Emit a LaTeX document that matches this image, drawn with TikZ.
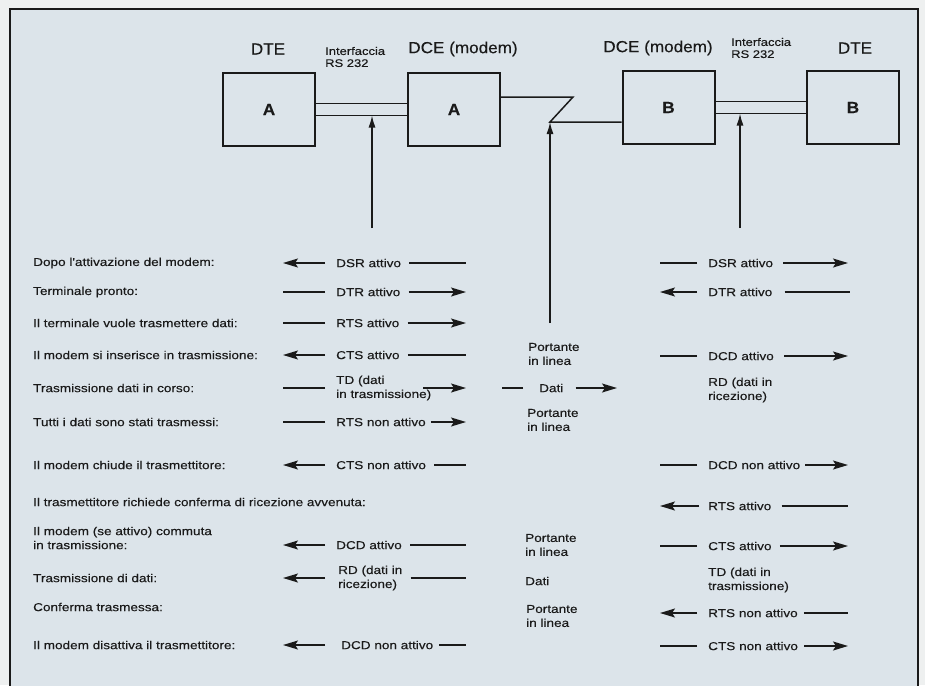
\documentclass[tikz,border=0pt]{standalone}
\usepackage{fontspec}
\setmainfont{Liberation Sans}
\newfontfamily\bodyfont{Liberation Sans}[FakeStretch=1.18, FakeBold=0.3]
\newfontfamily\headfont{Liberation Sans}[FakeStretch=1.07, FakeBold=0.2]
\usetikzlibrary{arrows.meta, positioning}
\definecolor{bgBlue}{HTML}{DCE4EA}
\definecolor{paperWhite}{HTML}{EEF0F0}
\definecolor{inkBlack}{HTML}{1A1A1A}
\tikzset{
  frame/.style    = {draw=inkBlack, line width=1.8pt, fill=bgBlue},
  unitbox/.style  = {draw=inkBlack, line width=2pt, minimum width=92pt,
                     minimum height=73pt, inner sep=0pt, text=inkBlack,
                     font=\headfont\fontsize{16}{16}\selectfont\bfseries},
  busline/.style  = {inkBlack, line width=1.5pt},
  probe/.style    = {-{Latex[length=12pt,width=7pt]}, inkBlack, line width=1.4pt},
  sigline/.style  = {inkBlack, line width=1.4pt},
  sigarrow/.style = {sigline, -{Stealth[length=15pt,width=9pt,inset=3pt]}},
  lbl/.style      = {font=\bodyfont\fontsize{11.5}{14}\selectfont, text=inkBlack,
                     inner sep=0pt, anchor=west, align=left},
  hlbl/.style     = {font=\headfont\fontsize{16}{16}\selectfont, text=inkBlack,
                     inner sep=0pt},
}
\begin{document}
\begin{tikzpicture}[x=1pt,y=-1pt]
  \useasboundingbox (0,0) rectangle (925,685);
  \clip (0,0) rectangle (925,685);
  \fill[paperWhite] (0,0) rectangle (925,685);
  \draw[frame] (10,9) rectangle (918,700);
  % units and the lines between them
  \node[unitbox] (dteA) at (269,109.5) {A};
  \node[unitbox] (dceA) at (454,109.5) {A};
  \node[unitbox] (dceB) at (668.5,107.5) {B};
  \node[unitbox] (dteB) at (853,107.5) {B};
  \node[hlbl] (hDteA) at (268,49) {DTE};
  \node[hlbl] (hDceA) at (463,49) {DCE (modem)};
  \node[hlbl] (hDceB) at (658,48) {DCE (modem)};
  \node[hlbl] (hDteB) at (855,48) {DTE};
  \node[lbl, font=\bodyfont\fontsize{11}{12}\selectfont] (hIfA) at (325,57) {Interfaccia\\RS 232};
  \node[lbl, font=\bodyfont\fontsize{11}{12}\selectfont] (hIfB) at (731,48) {Interfaccia\\RS 232};
  \coordinate (busAlo) at ([yshift=-6pt]dteA.east);
  \coordinate (busBlo) at ([yshift=-6pt]dceB.east);
  \draw[busline] ([yshift=6pt]dteA.east) -- ([yshift=6pt]dceA.west);
  \draw[busline] (busAlo) -- ([yshift=-6pt]dceA.west);
  \draw[busline] ([yshift=6pt]dceB.east) -- ([yshift=6pt]dteB.west);
  \draw[busline] (busBlo) -- ([yshift=-6pt]dteB.west);
  % telephone line with the step
  \coordinate (zTop) at (573,97);
  \coordinate (zBot) at (550,122);
  \draw[busline] (dceA.east |- zTop) -- (zTop) -- (zBot) -- (dceB.west |- zBot);
  % test points
  \coordinate (probeA) at (372,228);
  \coordinate (probeM) at (550,323);
  \coordinate (probeB) at (740,228);
  \draw[probe] (probeA) -- (probeA |- busAlo);
  \draw[probe] (probeM) -- (zBot);
  \draw[probe] (probeB) -- (probeB |- busBlo);
  % columns for the signal segments
  \coordinate (colA) at (283,0); \coordinate (endA) at (466,0);
  \coordinate (colB) at (660,0); \coordinate (endB) at (848,0);
  \coordinate (colM) at (502,0); \coordinate (endM) at (617,0);
  % phases
  \node[lbl] (d1) at (33,263) {Dopo l'attivazione del modem:};
  \node[lbl] (d2) at (33,292) {Terminale pronto:};
  \node[lbl] (d3) at (33,323) {Il terminale vuole trasmettere dati:};
  \node[lbl] (d4) at (33,355) {Il modem si inserisce in trasmissione:};
  \node[lbl] (d5) at (33,388) {Trasmissione dati in corso:};
  \node[lbl] (d6) at (33,422) {Tutti i dati sono stati trasmessi:};
  \node[lbl] (d7) at (33,465) {Il modem chiude il trasmettitore:};
  \node[lbl] (d8) at (33,502) {Il trasmettitore richiede conferma di ricezione avvenuta:};
  \node[lbl] (d9) at (33,538) {Il modem (se attivo) commuta\\in trasmissione:};
  \node[lbl] (d10) at (33,578) {Trasmissione di dati:};
  \node[lbl] (d11) at (33,607) {Conferma trasmessa:};
  \node[lbl] (d12) at (33,645) {Il modem disattiva il trasmettitore:};
  % signals on the A side
  \node[lbl] (a1) at (336,263) {DSR attivo};
  \draw[sigarrow] ([xshift=-11pt]a1.west) -- (colA |- a1.west);
  \draw[sigline] ([xshift=8pt]a1.east) -- (endA |- a1.east);
  \node[lbl] (a2) at (336,292) {DTR attivo};
  \draw[sigline] ([xshift=-11pt]a2.west) -- (colA |- a2.west);
  \draw[sigarrow] ([xshift=8pt]a2.east) -- (endA |- a2.east);
  \node[lbl] (a3) at (336,323) {RTS attivo};
  \draw[sigline] ([xshift=-11pt]a3.west) -- (colA |- a3.west);
  \draw[sigarrow] ([xshift=8pt]a3.east) -- (endA |- a3.east);
  \node[lbl] (a4) at (336,355) {CTS attivo};
  \draw[sigarrow] ([xshift=-11pt]a4.west) -- (colA |- a4.west);
  \draw[sigline] ([xshift=8pt]a4.east) -- (endA |- a4.east);
  \node[lbl] (a5) at (336,388) {TD (dati\\in trasmissione)};
  \draw[sigline] ([xshift=-11pt]a5.west) -- (colA |- a5.west);
  \draw[sigarrow] ([xshift=-8pt]a5.east) -- (endA |- a5.east);
  \node[lbl] (a6) at (336,422) {RTS non attivo};
  \draw[sigline] ([xshift=-11pt]a6.west) -- (colA |- a6.west);
  \draw[sigarrow] ([xshift=5pt]a6.east) -- (endA |- a6.east);
  \node[lbl] (a7) at (336,465) {CTS non attivo};
  \draw[sigarrow] ([xshift=-11pt]a7.west) -- (colA |- a7.west);
  \draw[sigline] ([xshift=8pt]a7.east) -- (endA |- a7.east);
  \node[lbl] (a9) at (336,545) {DCD attivo};
  \draw[sigarrow] ([xshift=-11pt]a9.west) -- (colA |- a9.west);
  \draw[sigline] ([xshift=8pt]a9.east) -- (endA |- a9.east);
  \node[lbl] (a10) at (338,578) {RD (dati in\\ricezione)};
  \draw[sigarrow] ([xshift=-13pt]a10.west) -- (colA |- a10.west);
  \draw[sigline] ([xshift=8pt]a10.east) -- (endA |- a10.east);
  \node[lbl] (a12) at (341,645) {DCD non attivo};
  \draw[sigarrow] ([xshift=-16pt]a12.west) -- (colA |- a12.west);
  \draw[sigline] ([xshift=6pt]a12.east) -- (endA |- a12.east);
  % line between the modems
  \node[lbl] (c4) at (528,354) {Portante\\in linea};
  \node[lbl] (c5) at (539,388) {Dati};
  \draw[sigline] ([xshift=-16pt]c5.west) -- (colM |- c5.west);
  \draw[sigarrow] ([xshift=12pt]c5.east) -- (endM |- c5.east);
  \node[lbl] (c6) at (527,420) {Portante\\in linea};
  \node[lbl] (c9) at (525,545) {Portante\\in linea};
  \node[lbl] (c10) at (525,581) {Dati};
  \node[lbl] (c11) at (526,616) {Portante\\in linea};
  % signals on the B side
  \node[lbl] (b1) at (708,263) {DSR attivo};
  \draw[sigline] ([xshift=-11pt]b1.west) -- (colB |- b1.west);
  \draw[sigarrow] ([xshift=10pt]b1.east) -- (endB |- b1.east);
  \node[lbl] (b2) at (708,292) {DTR attivo};
  \draw[sigarrow] ([xshift=-11pt]b2.west) -- (colB |- b2.west);
  \draw[sigline] ([xshift=12pt]b2.east) -- ([xshift=2pt]endB |- b2.east);
  \node[lbl] (b4) at (708,356) {DCD attivo};
  \draw[sigline] ([xshift=-11pt]b4.west) -- (colB |- b4.west);
  \draw[sigarrow] ([xshift=10pt]b4.east) -- (endB |- b4.east);
  \node[lbl] (b5) at (708,390) {RD (dati in\\ricezione)};
  \node[lbl] (b7) at (708,465) {DCD non attivo};
  \draw[sigline] ([xshift=-11pt]b7.west) -- (colB |- b7.west);
  \draw[sigarrow] ([xshift=5pt]b7.east) -- (endB |- b7.east);
  \node[lbl] (b8) at (708,506) {RTS attivo};
  \draw[sigarrow] ([xshift=-9pt]b8.west) -- (colB |- b8.west);
  \draw[sigline] ([xshift=10pt]b8.east) -- (endB |- b8.east);
  \node[lbl] (b9) at (708,546) {CTS attivo};
  \draw[sigline] ([xshift=-11pt]b9.west) -- (colB |- b9.west);
  \draw[sigarrow] ([xshift=8pt]b9.east) -- (endB |- b9.east);
  \node[lbl] (b10) at (708,580) {TD (dati in\\trasmissione)};
  \node[lbl] (b11) at (708,613) {RTS non attivo};
  \draw[sigarrow] ([xshift=-11pt]b11.west) -- (colB |- b11.west);
  \draw[sigline] ([xshift=6pt]b11.east) -- (endB |- b11.east);
  \node[lbl] (b12) at (708,646) {CTS non attivo};
  \draw[sigline] ([xshift=-11pt]b12.west) -- (colB |- b12.west);
  \draw[sigarrow] ([xshift=6pt]b12.east) -- (endB |- b12.east);
\end{tikzpicture}
\end{document}
